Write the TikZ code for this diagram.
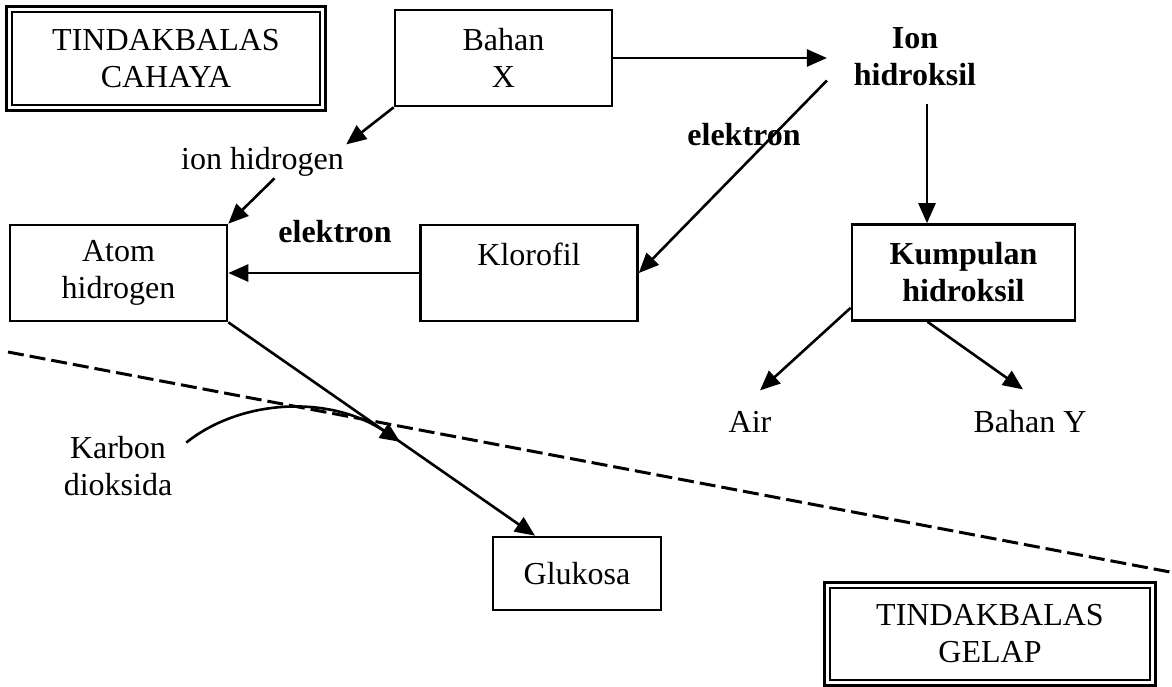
\documentclass[tikz,border=0pt]{standalone}
\usepackage{fontspec}
\setmainfont{Liberation Serif}
\usetikzlibrary{arrows.meta}

\begin{document}
\begin{tikzpicture}[x=0.5pt, y=-0.5pt,
        font=\fontsize{16}{18.5}\selectfont,
        bold/.style={font=\fontsize{16}{18.5}\selectfont\bfseries},
        box/.style={draw, line width=1.3pt, align=center, inner sep=0pt},
        mainbox/.style={box, minimum width=108.5pt, minimum height=48pt},
        arr/.style={line width=1.3pt, -{Triangle[length=10pt,width=8.5pt]}}]
    \useasboundingbox (0,0) rectangle (1172,686);

    % kotak
    \node[box, line width=0.7pt, minimum width=154pt, minimum height=46.5pt] (cahaya) at (166,58.5) {TINDAKBALAS\\CAHAYA};
    \draw[line width=1.6pt] ([shift={(-2.5pt,2.5pt)}]cahaya.north west) rectangle ([shift={(2.5pt,-2.5pt)}]cahaya.south east);
    \node[mainbox] (bahanx) at (503.5,58) {Bahan\\X};
    \node[mainbox] (atomh) at (118.5,273) {Atom\\hidrogen};
    \node[mainbox] (klorofil) at (529,273) {Klorofil\\\mbox{}};
    \node[mainbox, bold, minimum width=111.5pt] (kumpulan) at (963.5,272.5) {Kumpulan\\hidroksil};
    \node[box, minimum width=84pt, minimum height=36.5pt] (glukosa) at (577,573.5) {Glukosa};
    \node[box, line width=0.7pt, minimum width=160pt, minimum height=46pt] (gelap) at (990,634) {TINDAKBALAS\\GELAP};
    \draw[line width=1.6pt] ([shift={(-2.5pt,2.5pt)}]gelap.north west) rectangle ([shift={(2.5pt,-2.5pt)}]gelap.south east);

    % teks bebas
    \node[bold, align=center, inner xsep=13.3pt, inner ysep=9pt] (ionh) at (915,56.5) {Ion\\hidroksil};
    \node[anchor=base, inner sep=1pt] (ionhg) at (262.5,169) {ion hidrogen};
    \node[bold, anchor=base] (elek1) at (335,242) {elektron};
    \node[bold, anchor=base] (elek2) at (744,145) {elektron};
    \node[anchor=base, inner ysep=10pt] (air) at (750,432) {Air};
    \node[anchor=base, inner ysep=10pt] (bahany) at (1030,432) {Bahan Y};
    \node[align=center] (karbon) at (118,466) {Karbon\\dioksida};

    % anak panah
    \draw[arr] (bahanx.east) -- (bahanx.east -| ionh.west);
    \draw[arr] ([yshift=-12pt]ionh.west) -- (klorofil.east);
    \draw[arr] ([xshift=6pt]ionh.south) -- ([xshift=6pt]ionh.south |- kumpulan.north);
    \draw[arr] (bahanx.south west) -- (ionhg.north east);
    \draw[arr] ([xshift=6pt]ionhg.south) -- (atomh.north east);
    \draw[arr] (klorofil.west) -- (atomh.east);
    \draw[arr] (atomh.south east) -- coordinate[pos=0.56] (co2in) ([xshift=-21pt]glukosa.north);
    \draw[arr] ([shift={(3.5pt,-6.7pt)}]karbon.north east) .. controls +(55,-44) and +(-70,-47) .. (co2in);
    \draw[arr] ([yshift=7pt]kumpulan.south west) -- ([xshift=5pt]air.north);
    \draw[arr] ([xshift=-18pt]kumpulan.south) -- ([xshift=-3.5pt]bahany.north);

    \draw[line width=1.5pt, dash pattern=on 8pt off 3pt] (8,352) -- (1170,572);
\end{tikzpicture}
\end{document}
